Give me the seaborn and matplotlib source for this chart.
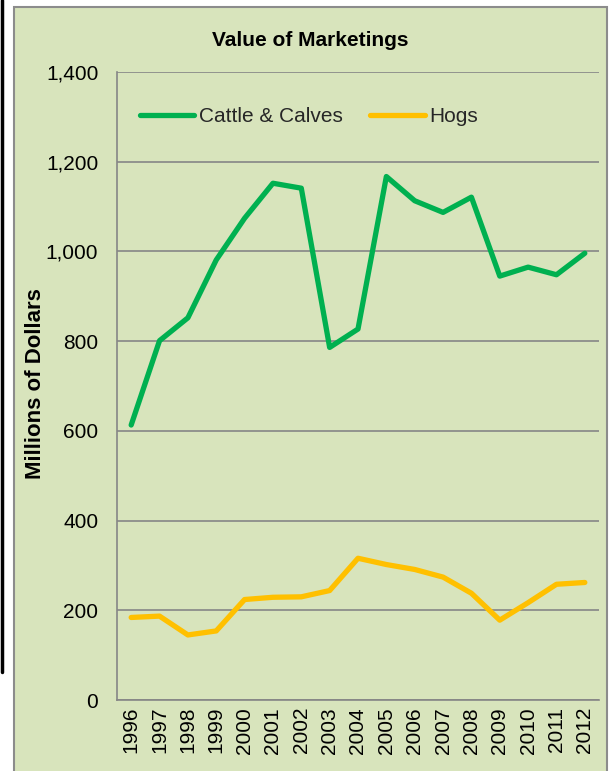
import pandas as pd
import matplotlib.pyplot as plt
import seaborn as sns
from matplotlib.patches import Rectangle
from matplotlib.lines import Line2D
from matplotlib.ticker import FuncFormatter

years = [str(y) for y in range(1996, 2013)]
cattle = [613, 801, 852, 981, 1074, 1152, 1141, 786, 827, 1167, 1113, 1087, 1121, 945, 965, 948, 996]
hogs = [184, 187, 145, 154, 224, 229, 230, 244, 316, 302, 291, 274, 238, 178, 217, 258, 262]
series_names = ['Cattle & Calves', 'Hogs']
colors = ['#00B050', '#FFC000']

df = pd.DataFrame({
    'idx': list(range(len(years))) * 2,
    'value': cattle + hogs,
    'series': [series_names[0]] * len(years) + [series_names[1]] * len(years),
})

sns.set_style('white')
plt.rcParams['font.family'] = ['Liberation Sans', 'DejaVu Sans']

W, H = 611, 771
fig = plt.figure(figsize=(W / 100, H / 100), dpi=100)
fig.patch.set_facecolor('white')

bg = '#D8E4BC'
grid_c = '#868686'

# chart area border and the black line on the left edge
fig.patches.append(Rectangle((14 / W, -0.02), (607 - 14) / W, 1 - 7 / H + 0.02,
                             transform=fig.transFigure, facecolor=bg,
                             edgecolor='#8C8C8C', linewidth=1.5, zorder=-1))
fig.lines.append(Line2D([1.5 / W, 1.5 / W], [1, 1 - 672 / H], transform=fig.transFigure,
                        color='black', linewidth=2.5))

ax = fig.add_axes([117 / W, 1 - 700 / H, 482 / W, 628 / H])
ax.set_facecolor(bg)

sns.lineplot(data=df, x='idx', y='value', hue='series', palette=colors, ax=ax,
             linewidth=3.8, solid_capstyle='round', solid_joinstyle='round',
             legend=False, zorder=3)

ax.set_xlim(-0.5, len(years) - 0.5)
ax.set_ylim(0, 1400)
ax.set_yticks(range(0, 1401, 200))
ax.yaxis.set_major_formatter(FuncFormatter(lambda v, p: f'{int(v):,}'))
ax.set_xticks(range(len(years)))
ax.set_xticklabels(years, rotation=90)
ax.set_xticks([i - 0.5 for i in range(len(years) + 1)], minor=True)
ax.tick_params(axis='x', which='major', length=0, pad=5, labelsize=15, colors='black')
ax.tick_params(axis='x', which='minor', length=4, width=1.2, color=grid_c, direction='out')
ax.tick_params(axis='y', length=2.5, width=1.2, color=grid_c, labelcolor='black', pad=11, labelsize=15)
ax.set_xlabel('')
ax.set_ylabel('')

ax.grid(axis='y', color=grid_c, linewidth=1.2)
ax.grid(axis='x', visible=False)
ax.set_axisbelow(True)
for s in ['top', 'right']:
    ax.spines[s].set_visible(False)
for s in ['left', 'bottom']:
    ax.spines[s].set_color(grid_c)
    ax.spines[s].set_linewidth(1.2)

handles = [Line2D([], [], color=c, linewidth=3.8, solid_capstyle='round') for c in colors]
fig.legend(handles, series_names, loc='center left', bbox_to_anchor=(140 / W, 1 - 117 / H),
           bbox_transform=fig.transFigure, ncol=2, frameon=False, fontsize=15,
           borderpad=0, borderaxespad=0, handlelength=2.6, handletextpad=0.25,
           columnspacing=1.3)

fig.text(310 / W, 1 - 40 / H, 'Value of Marketings', ha='center', va='center',
         fontsize=15, fontweight='bold', color='black')
fig.text(36 / W, 1 - 384 / H, 'Millions of Dollars', ha='center', va='center',
         rotation=90, fontsize=16, fontweight='bold', color='black')

fig.savefig('out.png', dpi=100, facecolor='white')
